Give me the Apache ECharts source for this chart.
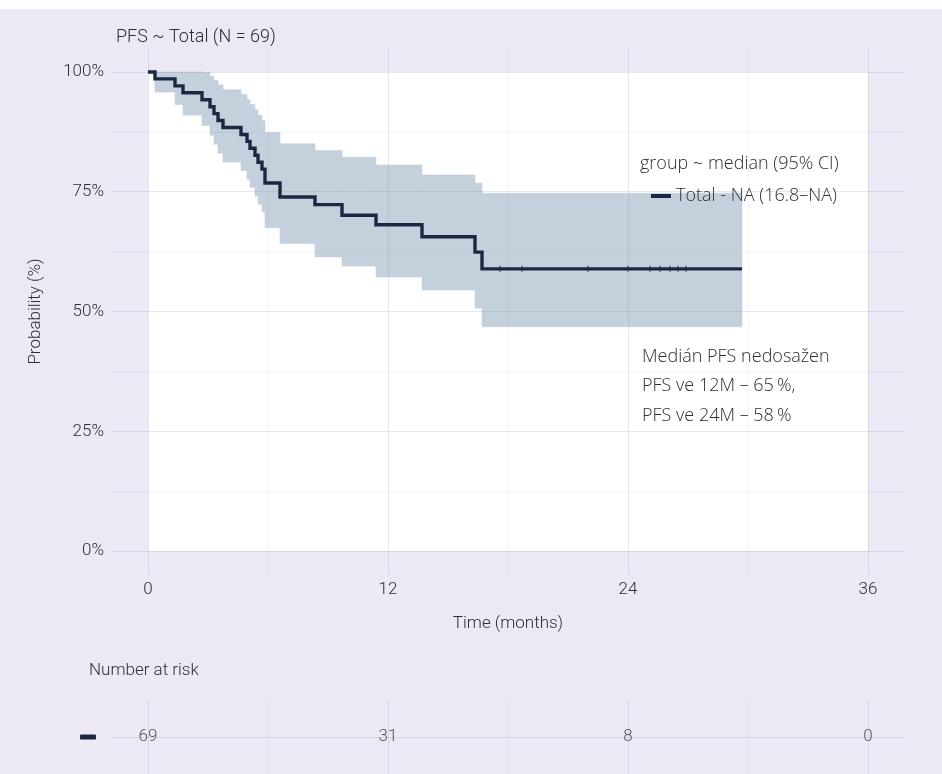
<!DOCTYPE html>
<html>
<head>
<meta charset="utf-8">
<script src="https://cdn.jsdelivr.net/npm/echarts@6/dist/echarts.min.js"></script>
<style>
  html, body { margin: 0; padding: 0; background: #ece9f4; }
  #chart { width: 942px; height: 774px; }
</style>
</head>
<body>
<div id="chart"></div>
<script>
// Kaplan–Meier estimate of progression-free survival, whole cohort (N = 69).
// Each entry starts a step: the value holds from that month until the next one.
const stepTimes = [0, 0.35, 1.35, 1.75, 2.7, 3.1, 3.3, 3.5, 3.75, 4.65, 4.95, 5.1, 5.35, 5.5, 5.7, 5.85, 6.6, 8.35, 9.7, 11.4, 13.7, 16.35, 16.7, 29.7];
const survival  = [100, 98.55, 97.10, 95.65, 94.20, 92.75, 91.30, 89.86, 88.41, 86.96, 85.51, 84.06, 82.61, 81.16, 79.71, 76.81, 73.91, 72.3, 70.1, 68.1, 65.6, 62.4, 58.9, 58.9];
// 95% confidence band on the same steps
const ciLower   = [100, 95.8, 93.2, 91.0, 88.8, 86.8, 84.9, 83.0, 81.2, 79.4, 77.6, 75.9, 74.1, 72.4, 70.8, 67.5, 64.2, 61.4, 59.5, 57.2, 54.5, 50.7, 46.8, 46.8];
const ciUpper   = [100, 100, 100, 100, 99.9, 99.1, 98.2, 97.3, 96.3, 95.3, 94.2, 93.2, 92.1, 90.9, 89.8, 87.4, 85.0, 83.6, 82.2, 80.6, 78.5, 76.8, 74.7, 74.7];
// censored observations on the plateau
const censorTimes = [17.6, 18.7, 22.0, 24.0, 25.1, 25.6, 26.1, 26.5, 26.9];
const censorLevel = 58.9;

// axes and risk table
const monthTicks = [0, 12, 24, 36];
const monthMinor = [6, 18, 30];
const probTicks  = [0, 25, 50, 75, 100];
const probMinor  = [12.5, 37.5, 62.5, 87.5];
const atRisk     = [69, 31, 8, 0];
const stratum    = 'Total';
const legendName = 'Total - NA (16.8–NA)';

const NARROW = "'Roboto', 'Noto Sans', sans-serif";
const NORMAL = "'Open Sans', 'Noto Sans', sans-serif";
const TEXT = '#2e2e33';
const NAVY = '#1c2843';
const BAND = '#c5d0dd';
const GRID_MAJOR = 'rgba(110,105,140,0.16)';
const GRID_MINOR = 'rgba(110,105,140,0.07)';

// band intervals [start, end, lower, upper]
const bandIntervals = [];
for (let i = 0; i < stepTimes.length - 1; i++) {
  bandIntervals.push([stepTimes[i], stepTimes[i + 1], ciLower[i], ciUpper[i]]);
}

const chart = echarts.init(document.getElementById('chart'), null, { renderer: 'canvas' });

chart.setOption({
  backgroundColor: '#ece9f4',
  animation: false,
  graphic: [
    { type: 'rect', left: 0, top: 0, shape: { width: 942, height: 9 }, style: { fill: '#ffffff' }, silent: true }
  ],
  title: [
    { text: 'PFS ~ Total (N = 69)', left: 111, top: 23,
      textStyle: { fontFamily: NARROW, fontSize: 18, fontWeight: 300, color: TEXT } },
    { text: 'group ~ median (95% CI)', left: 635, top: 150,
      textStyle: { fontFamily: NORMAL, fontSize: 18, fontWeight: 300, color: TEXT } },
    { text: 'Medián PFS nedosažen\nPFS ve 12M – 65\u2009%,\nPFS ve 24M – 58\u2009%', left: 637, top: 337,
      textStyle: { fontFamily: NORMAL, fontSize: 18, fontWeight: 300, color: TEXT, lineHeight: 29.5 } },
    { text: 'Number at risk', left: 84, top: 657,
      textStyle: { fontFamily: NARROW, fontSize: 17, fontWeight: 300, color: TEXT } }
  ],
  legend: {
    data: [{ name: legendName, icon: 'rect' }],
    left: 646, top: 182,
    itemWidth: 20, itemHeight: 4, itemGap: 8,
    textStyle: { fontFamily: NORMAL, fontSize: 18, fontWeight: 300, color: TEXT },
    selectedMode: false
  },
  grid: [
    { left: 112, right: 38, top: 48, bottom: 199 },
    { left: 112, right: 38, top: 700, bottom: 0 }
  ],
  xAxis: [
    {
      gridIndex: 0, type: 'value', min: -1.8, max: 37.8,
      axisLine: { show: false }, axisTick: { show: false }, splitLine: { show: false },
      axisLabel: { customValues: monthTicks, margin: 6, fontFamily: NARROW, fontSize: 17, fontWeight: 300, color: TEXT },
      name: 'Time (months)', nameLocation: 'middle', nameGap: 40,
      nameTextStyle: { fontFamily: NARROW, fontSize: 17, fontWeight: 300, color: TEXT }
    },
    {
      gridIndex: 1, type: 'value', min: -1.8, max: 37.8,
      axisLine: { show: false }, axisTick: { show: false }, splitLine: { show: false },
      axisLabel: { show: false }
    }
  ],
  yAxis: [
    {
      gridIndex: 0, type: 'value', min: -5, max: 105,
      axisLine: { show: false }, axisTick: { show: false }, splitLine: { show: false },
      axisLabel: { customValues: probTicks, formatter: '{value}%', margin: 8, fontFamily: NARROW, fontSize: 17, fontWeight: 300, color: TEXT },
      name: 'Probability (%)', nameLocation: 'middle', nameGap: 68, nameRotate: 90,
      nameTextStyle: { fontFamily: NARROW, fontSize: 17, fontWeight: 300, color: TEXT }
    },
    {
      gridIndex: 1, type: 'category', data: [stratum],
      axisLine: { show: false }, axisTick: { show: false }, splitLine: { show: false },
      axisLabel: {
        margin: 16,
        formatter: () => '{k|}',
        rich: { k: { width: 16, height: 5, backgroundColor: NAVY, borderRadius: 1 } }
      }
    }
  ],
  series: [
    // white plotting panel over the data range
    {
      type: 'line', xAxisIndex: 0, yAxisIndex: 0, z: 1, silent: true,
      data: [[0, 100]], symbol: 'none', lineStyle: { opacity: 0 },
      markArea: {
        silent: true,
        itemStyle: { color: '#ffffff' },
        data: [[{ coord: [0, 0] }, { coord: [36, 100] }]]
      }
    },
    // confidence band
    {
      type: 'custom', xAxisIndex: 0, yAxisIndex: 0, z: 2, silent: true,
      data: bandIntervals,
      encode: { x: [0, 1], y: [2, 3] },
      renderItem: (params, api) => {
        const a = api.coord([api.value(0), api.value(3)]);
        const b = api.coord([api.value(1), api.value(2)]);
        return {
          type: 'rect',
          shape: { x: a[0], y: a[1], width: b[0] - a[0], height: b[1] - a[1] },
          style: { fill: BAND, stroke: BAND, lineWidth: 0.6 }
        };
      }
    },
    // grid lines of the survival panel
    {
      type: 'line', xAxisIndex: 0, yAxisIndex: 0, z: 3, silent: true,
      data: [[0, 100]], symbol: 'none', lineStyle: { opacity: 0 },
      markLine: {
        silent: true, symbol: 'none', label: { show: false },
        data: [
          ...monthTicks.map(v => ({ xAxis: v, lineStyle: { color: GRID_MAJOR, width: 1, type: 'solid' } })),
          ...monthMinor.map(v => ({ xAxis: v, lineStyle: { color: GRID_MINOR, width: 1, type: 'solid' } })),
          ...probTicks.map(v => ({ yAxis: v, lineStyle: { color: GRID_MAJOR, width: 1, type: 'solid' } })),
          ...probMinor.map(v => ({ yAxis: v, lineStyle: { color: GRID_MINOR, width: 1, type: 'solid' } }))
        ]
      }
    },
    // survival curve
    {
      name: legendName,
      type: 'line', xAxisIndex: 0, yAxisIndex: 0, z: 5,
      step: 'end', showSymbol: false, symbol: 'none',
      data: stepTimes.map((t, i) => [t, survival[i]]),
      lineStyle: { color: NAVY, width: 3.4, join: 'miter' },
      itemStyle: { color: NAVY }
    },
    // censor marks
    {
      type: 'scatter', xAxisIndex: 0, yAxisIndex: 0, z: 6, silent: true,
      data: censorTimes.map(t => [t, censorLevel]),
      symbol: 'path://M4,0h2v4h4v2h-4v4h-2v-4h-4v-2h4z', symbolSize: 6,
      itemStyle: { color: NAVY }
    },
    // risk table grid lines
    {
      type: 'line', xAxisIndex: 1, yAxisIndex: 1, z: 1, silent: true,
      data: [[0, stratum]], symbol: 'none', lineStyle: { opacity: 0 },
      markLine: {
        silent: true, symbol: 'none', label: { show: false },
        data: [
          ...monthTicks.map(v => ({ xAxis: v, lineStyle: { color: GRID_MAJOR, width: 1, type: 'solid' } })),
          ...monthMinor.map(v => ({ xAxis: v, lineStyle: { color: GRID_MINOR, width: 1, type: 'solid' } })),
          { yAxis: stratum, lineStyle: { color: GRID_MAJOR, width: 1, type: 'solid' } }
        ]
      }
    },
    // number at risk
    {
      type: 'scatter', xAxisIndex: 1, yAxisIndex: 1, z: 4, silent: true,
      data: monthTicks.map((t, i) => [t, stratum, atRisk[i]]),
      symbolSize: 0,
      label: {
        show: true, position: 'inside',
        formatter: p => String(p.value[2]),
        fontFamily: NARROW, fontSize: 17, fontWeight: 300, color: TEXT
      }
    }
  ]
});
</script>
</body>
</html>
